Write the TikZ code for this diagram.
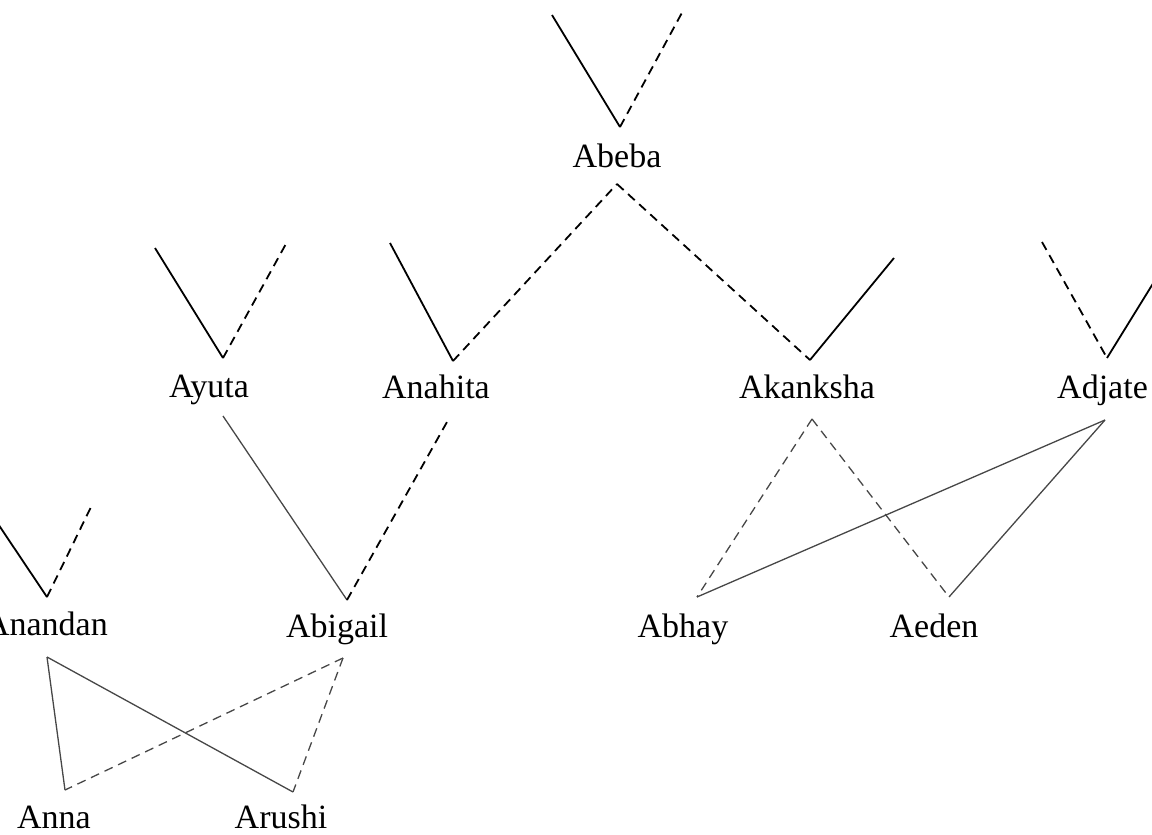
\documentclass[tikz,border=0pt]{standalone}
\usepackage{fontspec}
\setmainfont{Liberation Serif}
\begin{document}
\begin{tikzpicture}[x=1pt,y=-1pt,
  lab/.style={inner sep=0pt, font=\fontsize{34}{40}\selectfont, anchor=base},
  vsolid/.style={line width=1.8pt, black},
  vdashed/.style={vsolid, dash pattern=on 9pt off 6pt},
  csolid/.style={line width=1.3pt, black!72},
  cdashed/.style={csolid, dash pattern=on 9pt off 6pt}]
\useasboundingbox (0,0) rectangle (1152,835);
\clip (0,0) rectangle (1152,835);
% labels
\node[lab] (abeba) at (617,167) {Abeba};
\node[lab] (ayuta) at (209,397) {Ayuta};
\node[lab] (anahita) at (436,398) {Anahita};
\node[lab] (akanksha) at (807,398) {Akanksha};
\node[lab, anchor=base west] (adjate) at (1057,398) {Adjate};
\node[lab, anchor=base east] (anandan) at (108,635) {Anandan};
\node[lab] (abigail) at (337,637) {Abigail};
\node[lab] (abhay) at (683,637) {Abhay};
\node[lab] (aeden) at (934,637) {Aeden};
\node[lab] (anna) at (54,828) {Anna};
\node[lab] (arushi) at (281,828) {Arushi};
% points
\coordinate (abeba-l) at (552,15);
\coordinate (abeba-v) at (620,127);
\coordinate (abeba-r) at (684,9);
\coordinate (abeba-b) at (617,184);
\coordinate (ayuta-l) at (155,248);
\coordinate (ayuta-v) at (223,358);
\coordinate (ayuta-r) at (287,242);
\coordinate (ayuta-b) at (223,416);
\coordinate (anahita-l) at (390,243);
\coordinate (anahita-v) at (453,361);
\coordinate (anahita-b) at (447,422);
\coordinate (akanksha-v) at (810,360);
\coordinate (akanksha-r) at (894,258);
\coordinate (akanksha-b) at (812,419);
\coordinate (adjate-l) at (1042,242);
\coordinate (adjate-v) at (1107,358);
\coordinate (adjate-r) at (1170,256);
\coordinate (adjate-b) at (1105,420);
\coordinate (anandan-l) at (-20,497);
\coordinate (anandan-v) at (47,597);
\coordinate (anandan-r) at (92,505);
\coordinate (anandan-b) at (47,657);
\coordinate (abigail-v) at (347,600);
\coordinate (abigail-b) at (343,658);
\coordinate (abhay-t) at (697,597);
\coordinate (aeden-t) at (949,597);
\coordinate (anna-t) at (65,790);
\coordinate (arushi-t) at (293,792);
% upper V's
\draw[vsolid] (abeba-l) -- (abeba-v);
\draw[vdashed] (abeba-v) -- (abeba-r);
\draw[vsolid] (ayuta-l) -- (ayuta-v);
\draw[vdashed] (ayuta-v) -- (ayuta-r);
\draw[vsolid] (anahita-l) -- (anahita-v);
\draw[vdashed] (anahita-v) -- (abeba-b);
\draw[vdashed] (abeba-b) -- (akanksha-v);
\draw[vsolid] (akanksha-v) -- (akanksha-r);
\draw[vdashed] (adjate-l) -- (adjate-v);
\draw[vsolid] (adjate-v) -- (adjate-r);
\draw[vsolid] (anandan-l) -- (anandan-v);
\draw[vdashed] (anandan-v) -- (anandan-r);
% middle tier
\draw[csolid] (ayuta-b) -- (abigail-v);
\draw[vdashed] (abigail-v) -- (anahita-b);
\draw[cdashed] (akanksha-b) -- (abhay-t);
\draw[cdashed] (akanksha-b) -- (aeden-t);
\draw[csolid] (adjate-b) -- (abhay-t);
\draw[csolid] (adjate-b) -- (aeden-t);
% lower tier
\draw[csolid] (anandan-b) -- (anna-t);
\draw[csolid] (anandan-b) -- (arushi-t);
\draw[cdashed] (abigail-b) -- (anna-t);
\draw[cdashed] (abigail-b) -- (arushi-t);
\end{tikzpicture}
\end{document}
